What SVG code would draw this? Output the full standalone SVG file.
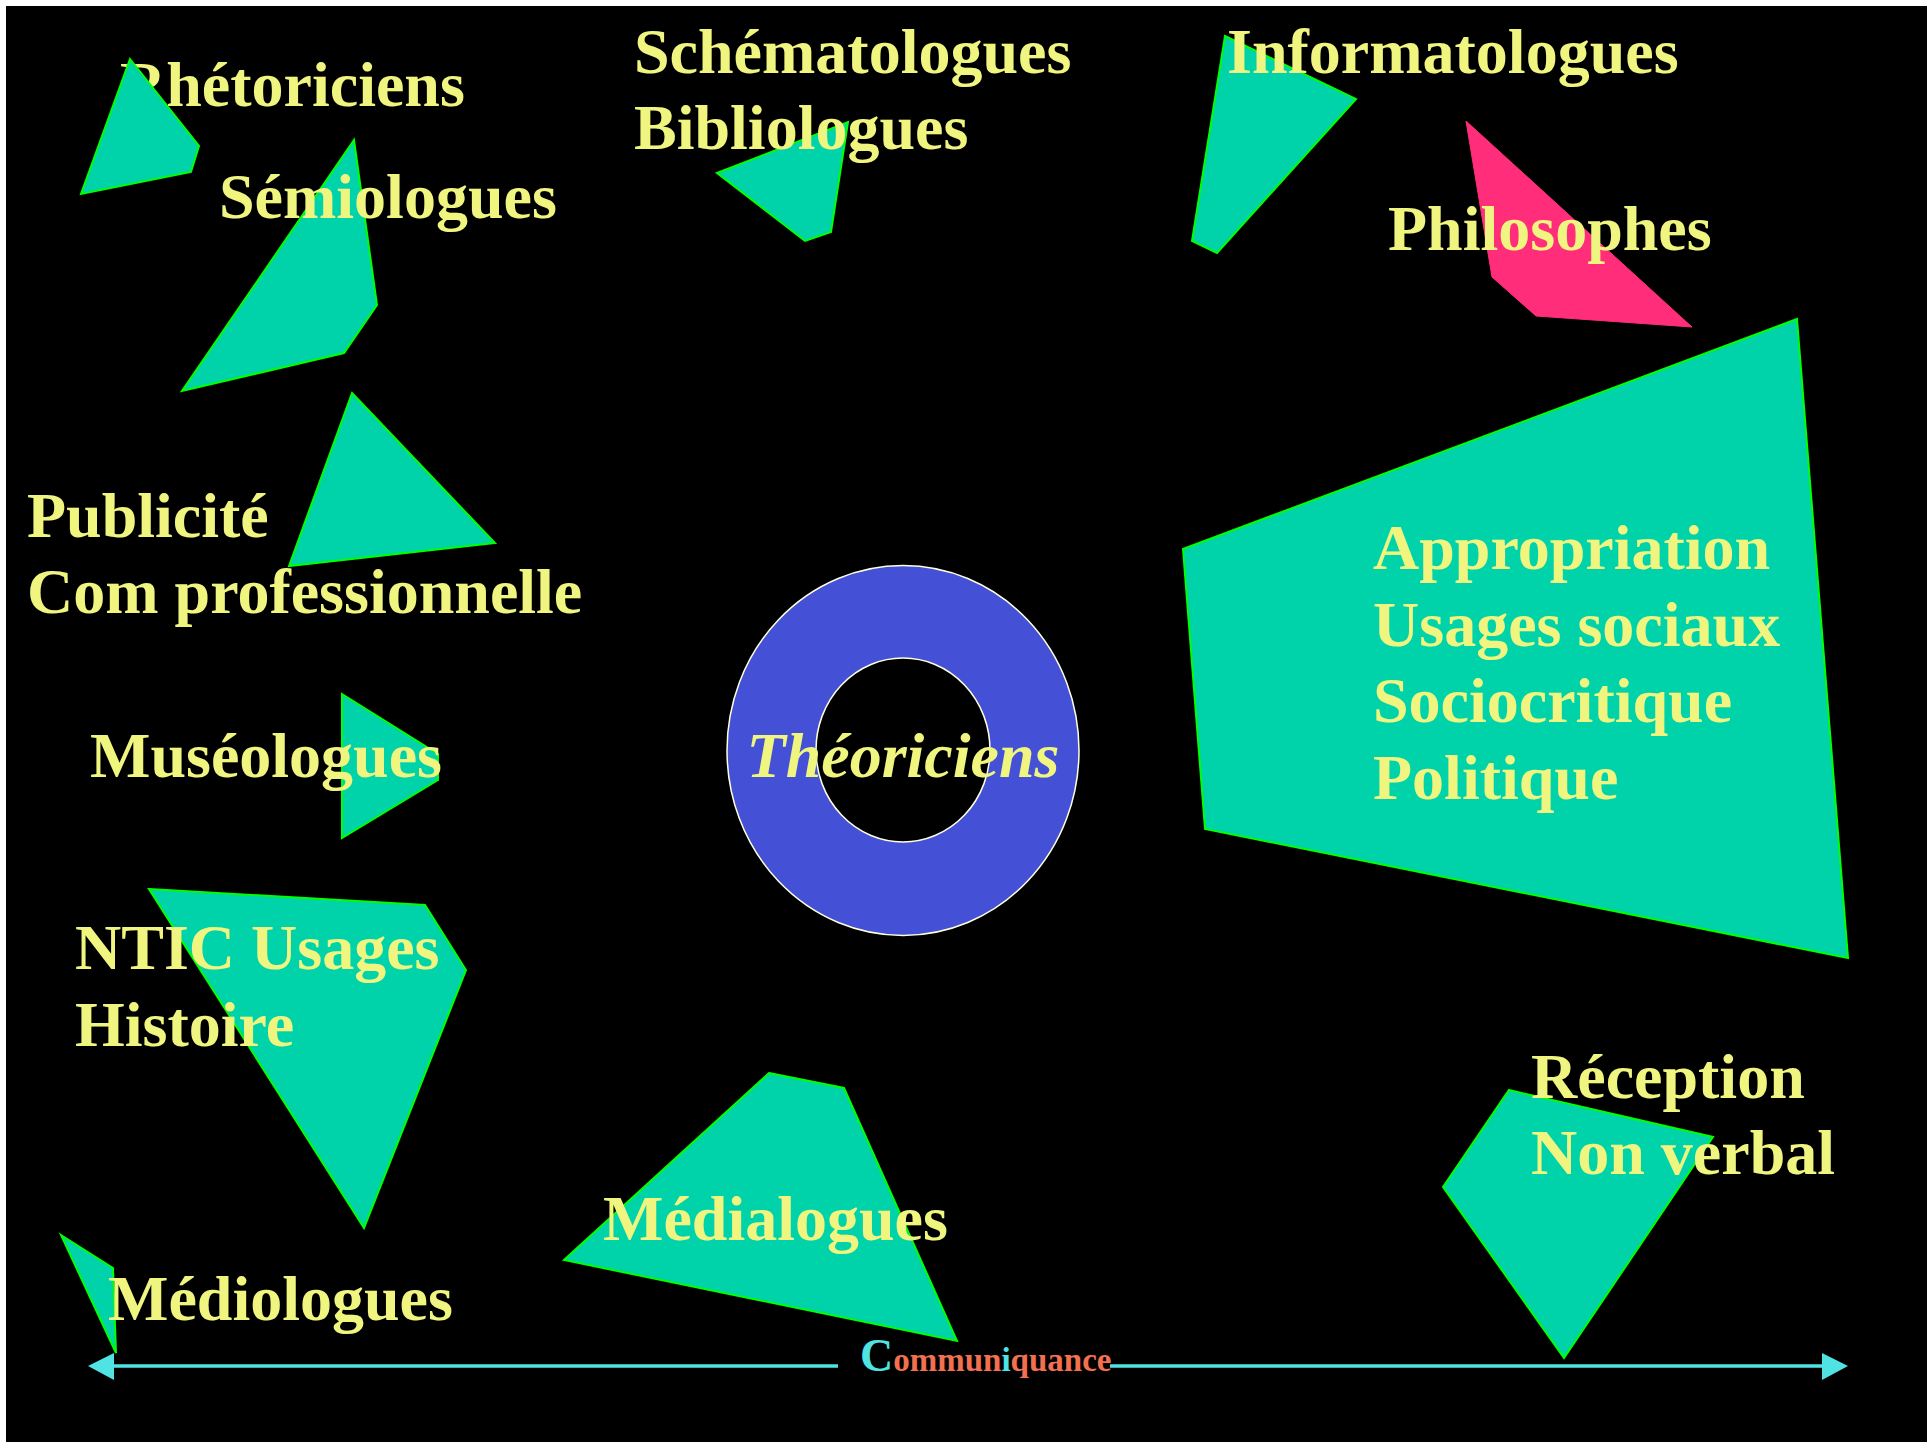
<svg xmlns="http://www.w3.org/2000/svg" width="1930" height="1442" viewBox="0 0 1930 1442">
<style>
.t{font-family:"Liberation Serif","Times New Roman",serif;font-weight:bold;font-size:64px;fill:#F0F580}
.ti{font-style:italic}
.p{fill:#00D2AA;stroke:#00FF00;stroke-width:2;stroke-linejoin:miter}
.pk{fill:#FF2D7A;stroke:#FF2D7A;stroke-width:1}
.ax{stroke:#4FE3E3;stroke-width:3.5;fill:none}
.ah{fill:#4FE3E3}
.cy{fill:#4FE3E3}
.or{fill:#F07050}
.s{font-family:"Liberation Serif","Times New Roman",serif;font-weight:bold}
</style>
<rect x="0" y="0" width="1930" height="1442" fill="#FFFFFF"/>
<rect x="6" y="6" width="1921" height="1436" fill="#000000"/>

<g id="rhetoriciens">
<text class="t" x="120" y="106">Rhétoriciens</text>
<polygon class="p" points="130,59 199,146 191,172 81,194"/>
</g>

<g id="semiologues">
<polygon class="p" points="354,140 377,305 344,353 182,391"/>
<text class="t" x="219" y="218">Sémiologues</text>
</g>

<g id="schematologues">
<polygon class="p" points="717,173 848,122 831,232 805,241"/>
<text class="t" x="634" y="73">Schématologues</text>
<text class="t" x="634" y="149">Bibliologues</text>
</g>

<g id="informatologues">
<polygon class="p" points="1225,36 1356,99 1217,253 1192,241"/>
<text class="t" x="1227" y="73">Informatologues</text>
</g>

<g id="philosophes">
<polygon class="pk" points="1466,121 1692,327 1536,316 1492,277"/>
<text class="t" x="1388" y="250">Philosophes</text>
</g>

<g id="appropriation">
<polygon class="p" points="1797,319 1848,958 1205,829 1183,549"/>
<text class="t" x="1373" y="569">Appropriation</text>
<text class="t" x="1373" y="646">Usages sociaux</text>
<text class="t" x="1373" y="722">Sociocritique</text>
<text class="t" x="1373" y="799">Politique</text>
</g>

<g id="publicite">
<polygon class="p" points="352,393 495,543 289,566"/>
<text class="t" x="27" y="537">Publicité</text>
<text class="t" x="27" y="613">Com professionnelle</text>
</g>

<g id="museologues">
<polygon class="p" points="342,694 438,754 438,780 342,838"/>
<text class="t" x="90" y="777">Muséologues</text>
</g>

<g id="theoriciens">
<path d="M727,750.5 A176,185 0 1,0 1079,750.5 A176,185 0 1,0 727,750.5 Z M816,750 A87,92 0 1,1 990,750 A87,92 0 1,1 816,750 Z" fill="#4450D5" fill-rule="evenodd" stroke="#FFFFE0" stroke-width="1.5"/>
<text class="t ti" x="903" y="777" text-anchor="middle">Théoriciens</text>
</g>

<g id="ntic">
<polygon class="p" points="149,889 425,905 466,970 364,1228"/>
<text class="t" x="75" y="969">NTIC Usages</text>
<text class="t" x="75" y="1046">Histoire</text>
</g>

<g id="medialogues">
<polygon class="p" points="769,1073 844,1088 957,1341 564,1260"/>
<text class="t" x="603" y="1240">Médialogues</text>
</g>

<g id="mediologues">
<polygon class="p" points="61,1235 113,1268 116,1353"/>
<text class="t" x="108" y="1320">Médiologues</text>
</g>

<g id="reception">
<polygon class="p" points="1509,1090 1713,1137 1564,1358 1443,1187"/>
<text class="t" x="1531" y="1098">Réception</text>
<text class="t" x="1531" y="1174">Non verbal</text>
</g>

<g id="connectors">
<line class="ax" x1="112" y1="1366" x2="838" y2="1366"/>
<line class="ax" x1="1110" y1="1366" x2="1824" y2="1366"/>
<polygon class="ah" points="88,1366 114,1353 114,1380"/>
<polygon class="ah" points="1848,1366 1822,1353 1822,1380"/>
</g>

<g id="communiquance">
<text class="s" x="860" y="1371"><tspan class="cy" font-size="46">C</tspan><tspan class="or" font-size="33">ommun</tspan><tspan class="cy" font-size="33">i</tspan><tspan class="or" font-size="33">quance</tspan></text>
</g>
</svg>
